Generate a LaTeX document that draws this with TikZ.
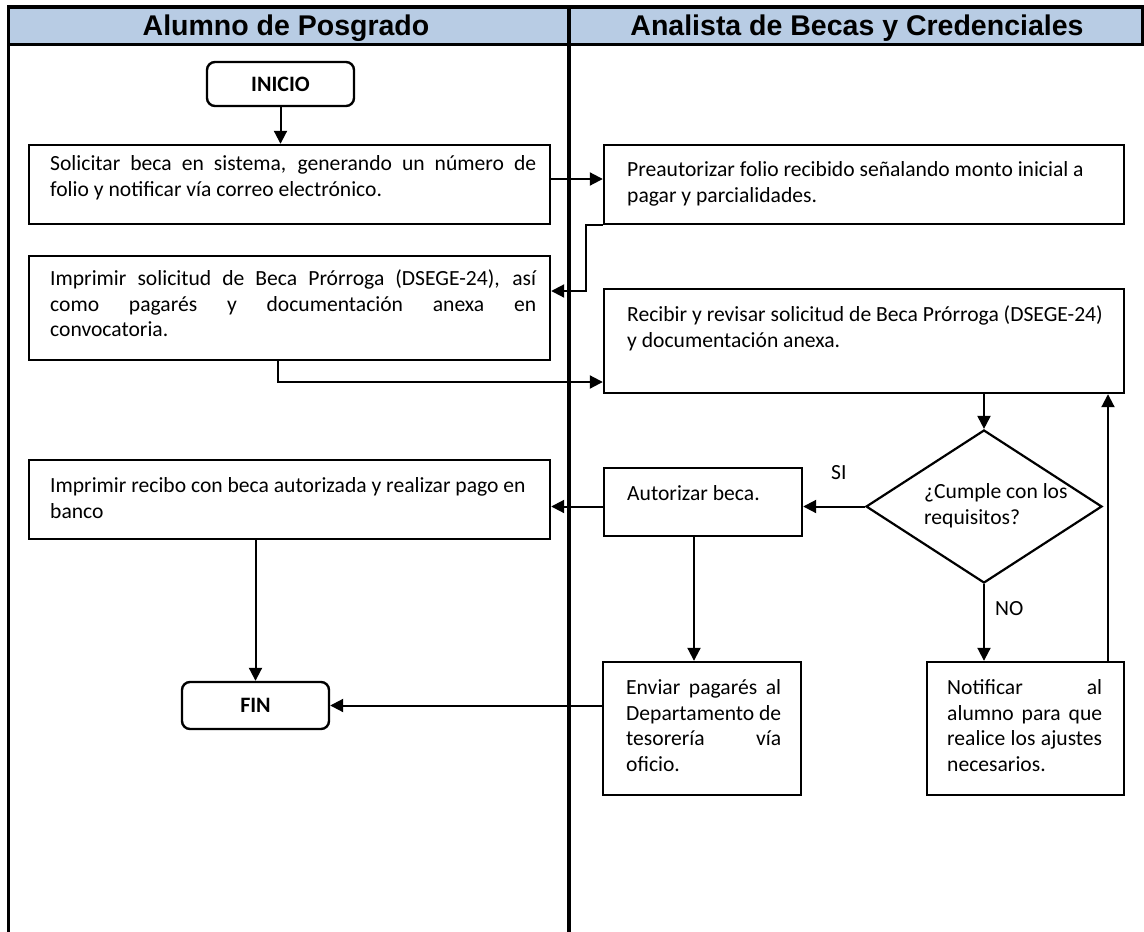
\documentclass[tikz,border=0pt]{standalone}
\usepackage{fontspec}
\setmainfont{Carlito}
\newfontfamily\lanefont{Liberation Sans}
\usetikzlibrary{arrows.meta,calc,shapes.geometric}
\definecolor{headblue}{RGB}{184,204,228}

% a line stretched to a given width (justified line)
\newcommand{\jline}[2]{\makebox[#1][s]{#2}}
\newcommand{\firststrut}{\rule{0pt}{18pt}}

\tikzset{
  lanerule/.style={line width=3.4pt},
  lanetitle/.style={inner sep=0pt, anchor=base, font=\lanefont\fontsize{28.5}{30}\selectfont\bfseries},
  stepbox/.style={draw, line width=2.4pt, rectangle, inner sep=0pt},
  terminal/.style={draw, line width=2.4pt, rectangle, rounded corners=8pt, inner sep=0pt,
    minimum width=147pt, font=\fontsize{22}{24}\selectfont\bfseries},
  decision/.style={draw, line width=2.2pt, diamond, inner sep=0pt},
  body/.style={inner sep=0pt, align=left, anchor=north west, font=\fontsize{21.6}{25.8}\selectfont},
  flow/.style={line width=2pt, -{Triangle[length=13pt,width=13pt]}},
}

\begin{document}
\begin{tikzpicture}[x=1pt,y=-1pt]
\useasboundingbox (0,0) rectangle (1144,932);

% swimlane frame and headings
\fill[headblue] (8.5,7) rectangle (1142.5,44.5);
\draw[lanerule] (8.5,932) -- (8.5,7) -- (1142.5,7) -- (1142.5,44.5) -- (8.5,44.5);
\draw[lanerule] (569,7) -- (569,932);
\node[lanetitle] (lane1) at (286,35) {Alumno de Posgrado};
\node[lanetitle] (lane2) at (857,35) {Analista de Becas y Credenciales};

% start and end
\node[terminal, minimum height=44pt] (ini) at (280.5,84) {INICIO};
\node[terminal, minimum height=47pt] (fin) at (255.5,705.5) {FIN};

% process boxes
\node[stepbox, minimum width=521pt, minimum height=79pt]  (b1) at (289.5,184.5) {};
\node[stepbox, minimum width=520pt, minimum height=79pt]  (b2) at (864,184.5) {};
\node[stepbox, minimum width=521pt, minimum height=104pt] (b3) at (289.5,308) {};
\node[stepbox, minimum width=520pt, minimum height=104pt] (b4) at (864,341) {};
\node[stepbox, minimum width=198pt, minimum height=68pt]  (b5) at (703,502) {};
\node[stepbox, minimum width=521pt, minimum height=79pt]  (b6) at (289.5,499.5) {};
\node[stepbox, minimum width=198pt, minimum height=133pt] (b7) at (702,728.5) {};
\node[stepbox, minimum width=197pt, minimum height=133pt] (b8) at (1025.5,728.5) {};
\node[decision, minimum width=236pt, minimum height=153pt] (dec) at (984,506.5) {};

% box texts
\node[body] (t1) at (50,152) {\firststrut\jline{486pt}{Solicitar beca en sistema, generando un número de}\\
  folio y notificar vía correo electrónico.};
\node[body] (t2) at (627,158) {\firststrut Preautorizar folio recibido señalando monto inicial a\\
  pagar y parcialidades.};
\node[body] (t3) at (50,267) {\firststrut\jline{486pt}{Imprimir solicitud de Beca Prórroga (DSEGE-24), así}\\
  \jline{486pt}{como pagarés y documentación anexa en}\\
  convocatoria.};
\node[body] (t4) at (627,303) {\firststrut Recibir y revisar solicitud de Beca Prórroga (DSEGE-24)\\
  y documentación anexa.};
\node[body] (t5) at (627,482) {\firststrut Autorizar beca.};
\node[body] (t6) at (50,474) {\firststrut Imprimir recibo con beca autorizada y realizar pago en\\
  banco};
\node[body] (t7) at (626,676) {\firststrut\jline{155pt}{Enviar pagarés al}\\
  \jline{155pt}{Departamento de}\\
  \jline{155pt}{tesorería vía}\\
  oficio.};
\node[body] (t8) at (947,676) {\firststrut\jline{155pt}{Notificar al}\\
  \jline{155pt}{alumno para que}\\
  \jline{155pt}{realice los ajustes}\\
  necesarios.};
\node[body] (td) at (924,480) {\firststrut ¿Cumple con los\\requisitos?};
\node[body] (si) at (831,461) {\firststrut SI};
\node[body] (no) at (995,597) {\firststrut NO};

% connectors
\coordinate (k1) at (586,291);
\coordinate (k2) at (278,382);
\coordinate (k3) at (694,0);
\coordinate (k4) at (1108,0);

\draw[flow] (ini.south) -- (ini.south |- b1.north);
\draw[flow] (b1.east |- 0,179) -- (b2.west |- 0,179);
\draw[flow] (b2.south west) -| (k1) -- (k1 -| b3.east);
\draw[flow] (k2 |- b3.south) -- (k2) -- (k2 -| b4.west);
\draw[flow] (dec.north |- b4.south) -- (dec.north);
\draw[flow] (dec.west) -- (dec.west -| b5.east);
\draw[flow] (b5.west |- dec.west) -- (b6.east |- dec.west);
\draw[flow] (fin.north |- b6.south) -- (fin.north);
\draw[flow] (k3 |- b5.south) -- (k3 |- b7.north);
\draw[flow] (b7.west |- fin.east) -- (fin.east);
\draw[flow] (dec.south) -- (dec.south |- b8.north);
\draw[flow] (k4 |- b8.north) -- (k4 |- b4.south);
\end{tikzpicture}
\end{document}
